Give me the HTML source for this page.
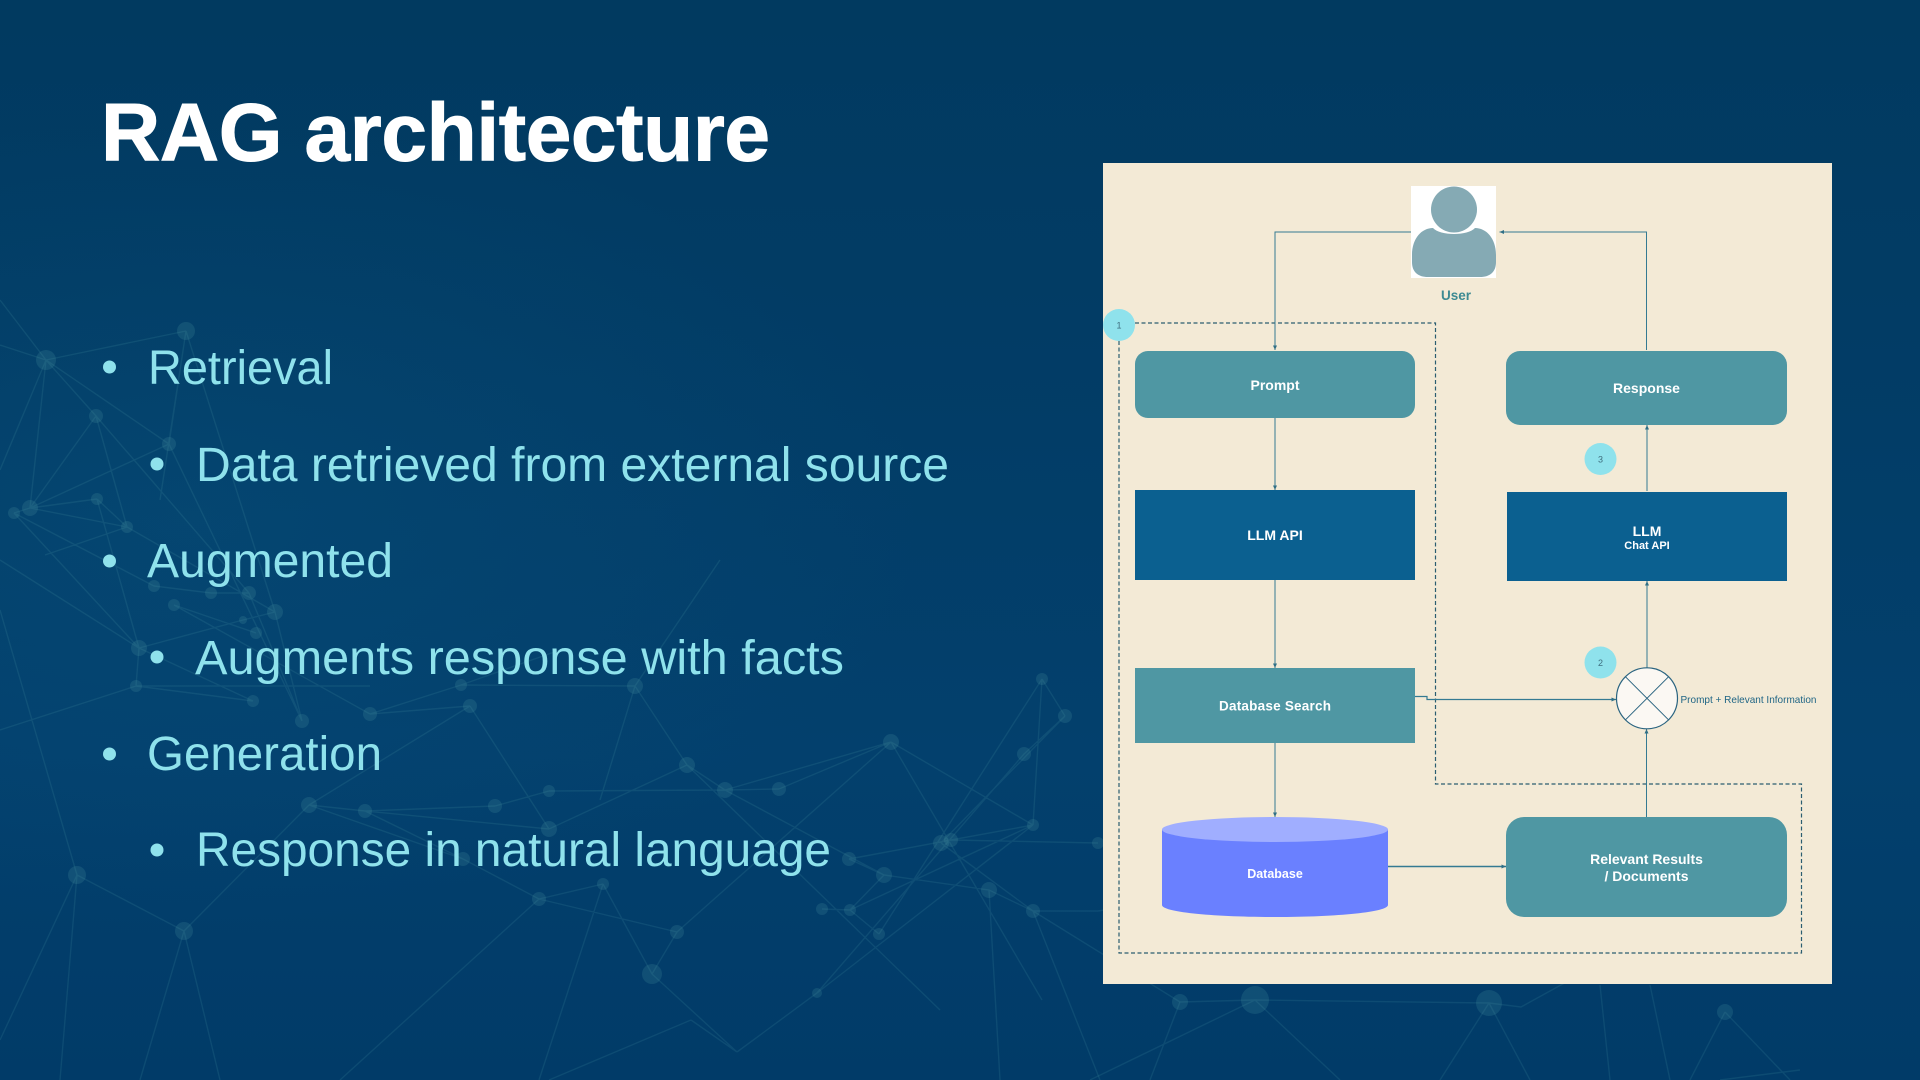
<!DOCTYPE html>
<html lang="en"><head><meta charset="utf-8"><title>RAG architecture</title>
<style>
html,body{margin:0;padding:0;width:1920px;height:1080px;overflow:hidden;background:#023b64}
svg{display:block}
text{font-family:"Liberation Sans",sans-serif}
.b{fill:#8fe2ec;font-size:48px}
.w{fill:#fff;font-weight:bold;font-size:14px;text-anchor:middle}
.n{fill:#3f6f7f;font-size:9px;text-anchor:middle}
</style></head><body>
<svg width="1920" height="1080" viewBox="0 0 1920 1080" xmlns="http://www.w3.org/2000/svg">
<defs>
<linearGradient id="bg" x1="0" y1="0" x2="0" y2="1">
<stop offset="0" stop-color="#013a60"/><stop offset=".3" stop-color="#023c65"/><stop offset=".7" stop-color="#03406d"/><stop offset="1" stop-color="#013b68"/>
</linearGradient>
<radialGradient id="gl" cx="0.1" cy="0.48" r="0.38">
<stop offset="0" stop-color="#0b5a86" stop-opacity=".28"/><stop offset="1" stop-color="#0b5a86" stop-opacity="0"/>
</radialGradient>
<marker id="a" markerWidth="5" markerHeight="5" refX="4.5" refY="2.5" orient="auto" markerUnits="userSpaceOnUse"><path d="M0 0.500L4.500 2.500L0 4.500z" fill="#2f6f86"/></marker>
</defs>
<rect width="1920" height="1080" fill="url(#bg)"/>
<rect width="1920" height="1080" fill="url(#gl)"/>
<g stroke="#4f9aa4" stroke-opacity=".17" stroke-width="1.400" fill="none">
<path d="M46 360L186 331M46 360L0 345M46 360L96 416M46 360L169 444M46 360L30 508M46 360L0 470M0 300L46 360M186 331L169 444M186 331L160 500M186 331L275 612M96 416L30 508M96 416L127 527M96 416L249 593M169 444L30 508M169 444L302 721M30 508L97 499M30 508L127 527M14 513L30 508M14 513L154 586M14 513L139 648M97 499L127 527M97 499L139 648M127 527L45 555M127 527L275 612M154 586L211 593L249 593M174 605L256 633M174 605L370 714M275 612L302 721M249 593L302 721M275 612L243 620L139 648M139 648L136 686M0 560L139 648M136 686L0 730M136 686L370 686M136 686L253 701M253 701L139 648M370 714L470 706M370 714L461 685M461 685L635 686M470 706L370 714M470 706L549 829M470 706L309 805M461 685L560 650M635 686L687 765M635 686L600 800M635 686L720 560M687 765L725 790L779 789M779 789L891 742M891 742L1033 825M891 742L725 790M725 790L884 875M687 765L940 1010M309 805L365 811L495 806M495 806L549 791M549 791L725 790M549 829L687 765M549 829L365 811M365 811L463 859M309 805L463 859M463 859L539 899L603 884M539 899L677 932M603 884L652 974M677 932L891 742M677 932L652 974M652 974L737 1052M737 1052L817 993L1033 825M691 1020L549 1080M691 1020L737 1052M603 884L539 1080M539 899L340 1080M309 805L184 931M77 875L184 931M77 875L0 1040M77 875L0 610M77 875L60 1080M184 931L140 1080M184 931L220 1080M849 859L951 840L1033 825M849 859L884 875L989 890L1033 911M884 875L850 910M822 909L850 910L879 934M850 910L1033 825M879 934L1042 679M1042 679L1065 716M1042 679L1033 825M1065 716L941 843M1065 716L1024 754L817 993M951 840L1098 843M941 843L1033 911M1033 911L1098 911M1033 911L1180 1002M1098 911L1300 880M1033 911L1100 1080M989 890L1000 1080M891 742L1042 1000"/>
<path d="M1255 1000L1489 1003M1255 1000L1090 1080M1255 1000L1180 1002M1255 1000L1340 1080M1180 1002L1150 1080M1489 1003L1521 1007L1570 980M1489 1003L1440 1080M1489 1003L1530 1080M1725 1012L1790 1080M1725 1012L1690 1080M1650 985L1670 1080M1600 985L1610 1080M1800 1070L1720 1080"/>
</g>
<g fill="#4f9aa4" fill-opacity=".2">
<circle cx="46" cy="360" r="10"/><circle cx="186" cy="331" r="9"/><circle cx="96" cy="416" r="7"/><circle cx="169" cy="444" r="7"/><circle cx="30" cy="508" r="8"/><circle cx="14" cy="513" r="6"/><circle cx="97" cy="499" r="6"/><circle cx="127" cy="527" r="6"/><circle cx="154" cy="586" r="6"/><circle cx="211" cy="593" r="6"/><circle cx="249" cy="593" r="7"/><circle cx="174" cy="605" r="6"/><circle cx="275" cy="612" r="8"/><circle cx="243" cy="620" r="4"/><circle cx="256" cy="633" r="6"/><circle cx="139" cy="648" r="8"/><circle cx="136" cy="686" r="6"/><circle cx="253" cy="701" r="6"/><circle cx="302" cy="721" r="7"/><circle cx="370" cy="714" r="7"/><circle cx="461" cy="685" r="6"/><circle cx="470" cy="706" r="7"/><circle cx="635" cy="686" r="8"/><circle cx="309" cy="805" r="8"/><circle cx="365" cy="811" r="7"/><circle cx="495" cy="806" r="7"/><circle cx="549" cy="791" r="6"/><circle cx="549" cy="829" r="8"/><circle cx="687" cy="765" r="8"/><circle cx="725" cy="790" r="8"/><circle cx="779" cy="789" r="7"/><circle cx="891" cy="742" r="8"/><circle cx="1042" cy="679" r="6"/><circle cx="1065" cy="716" r="7"/><circle cx="1024" cy="754" r="7"/><circle cx="1033" cy="825" r="6"/><circle cx="951" cy="840" r="7"/><circle cx="941" cy="843" r="8"/><circle cx="1098" cy="843" r="6"/><circle cx="849" cy="859" r="7"/><circle cx="884" cy="875" r="8"/><circle cx="989" cy="890" r="8"/><circle cx="1033" cy="911" r="7"/><circle cx="822" cy="909" r="6"/><circle cx="850" cy="910" r="6"/><circle cx="879" cy="934" r="6"/><circle cx="677" cy="932" r="7"/><circle cx="603" cy="884" r="6"/><circle cx="539" cy="899" r="7"/><circle cx="463" cy="859" r="7"/><circle cx="77" cy="875" r="9"/><circle cx="184" cy="931" r="9"/><circle cx="652" cy="974" r="10"/><circle cx="817" cy="993" r="5"/><circle cx="1255" cy="1000" r="14"/><circle cx="1180" cy="1002" r="8"/><circle cx="1489" cy="1003" r="13"/><circle cx="1725" cy="1012" r="8"/>
</g>

<text x="101" y="160.500" fill="#fff" stroke="#fff" stroke-width="1" font-weight="bold" style="font-size:82px" textLength="669" lengthAdjust="spacing">RAG architecture</text>
<g fill="#8fe2ec"><circle cx="109.500" cy="367" r="6.500"/><circle cx="157" cy="464" r="6.500"/><circle cx="109.500" cy="561" r="6.500"/><circle cx="157" cy="657" r="6.500"/><circle cx="109.500" cy="754" r="6.500"/><circle cx="157" cy="850" r="6.500"/></g>
<text class="b" x="148" y="384" textLength="185" lengthAdjust="spacingAndGlyphs">Retrieval</text>
<text class="b" x="196" y="481" textLength="753" lengthAdjust="spacingAndGlyphs">Data retrieved from external source</text>
<text class="b" x="147" y="577" textLength="246" lengthAdjust="spacingAndGlyphs">Augmented</text>
<text class="b" x="195" y="674" textLength="649" lengthAdjust="spacingAndGlyphs">Augments response with facts</text>
<text class="b" x="147" y="770" textLength="235" lengthAdjust="spacingAndGlyphs">Generation</text>
<text class="b" x="196" y="866" textLength="635" lengthAdjust="spacingAndGlyphs">Response in natural language</text>

<rect x="1103" y="163" width="729" height="821" fill="#f3ead6"/>

<rect x="1411" y="186" width="85" height="92" fill="#fff"/>
<ellipse cx="1454" cy="209.500" rx="23" ry="23" fill="#85aab4"/>
<path d="M1412 262V255C1412 238 1422 228 1433 228C1440 236 1468 236 1475 228C1486 228 1496 238 1496 255V262C1496 272 1490 277 1480 277H1428C1418 277 1412 272 1412 262Z" fill="#85aab4"/>
<text x="1456" y="300" text-anchor="middle" font-weight="bold" style="font-size:13.500px" fill="#3d8a92">User</text>

<g fill="none" stroke="#2b5d70" stroke-width="1.200" stroke-dasharray="4 2.500">
<path d="M1135 323H1435.500V784H1801.500V953H1119V340"/>
</g>

<g fill="none" stroke="#347a92" stroke-width="1">
<path d="M1411 232H1275V350" marker-end="url(#a)"/>
<path d="M1646.500 350V232H1499.500" marker-end="url(#a)"/>
<path d="M1275 418V490" marker-end="url(#a)"/>
<path d="M1275 580V668" marker-end="url(#a)"/>
<path d="M1275 743V817" marker-end="url(#a)"/>
<path d="M1647 491V425" marker-end="url(#a)"/>
<path d="M1647 668V581" marker-end="url(#a)"/>
<path d="M1646.500 817V729" marker-end="url(#a)"/>
<path d="M1388 866.500H1506" stroke-width="1.500" marker-end="url(#a)"/>
<path d="M1415 696.500H1427V699.500H1616" stroke-width="1.200" marker-end="url(#a)"/>
</g>

<circle cx="1119" cy="325" r="16" fill="#8fe2ec"/><text class="n" x="1119" y="328.500">1</text>
<circle cx="1600.500" cy="459" r="16" fill="#8fe2ec"/><text class="n" x="1600.500" y="462.500">3</text>
<circle cx="1600.500" cy="662.500" r="16" fill="#8fe2ec"/><text class="n" x="1600.500" y="666">2</text>

<rect x="1135" y="351" width="280" height="67" rx="13" fill="#4f97a3"/>
<text class="w" x="1275" y="390">Prompt</text>
<rect x="1506" y="351" width="281" height="74" rx="14" fill="#4f97a3"/>
<text class="w" x="1646.500" y="393">Response</text>
<rect x="1135" y="490" width="280" height="90" fill="#0b6090"/>
<text class="w" x="1275" y="540">LLM API</text>
<rect x="1507" y="492" width="280" height="89" fill="#0b6090"/>
<text class="w" x="1647" y="536">LLM</text>
<text class="w" x="1647" y="549" style="font-size:11px">Chat API</text>
<rect x="1135" y="668" width="280" height="75" fill="#4f97a3"/>
<text class="w" x="1275" y="710.500" style="font-size:13.500px" textLength="112">Database Search</text>

<path d="M1162 829.500V905C1162 912 1212 917 1275 917C1338 917 1388 912 1388 905V829.500Z" fill="#6a80ff"/>
<ellipse cx="1275" cy="829.500" rx="113" ry="12.500" fill="#a0aeff"/>
<text class="w" x="1275" y="878" style="font-size:12.500px">Database</text>

<rect x="1506" y="817" width="281" height="100" rx="18" fill="#4f97a3"/>
<text class="w" x="1646.500" y="864">Relevant Results</text>
<text class="w" x="1646.500" y="881">/ Documents</text>

<circle cx="1647" cy="698.300" r="30.500" fill="#fbf8f3" stroke="#2a6480" stroke-width="1.200"/>
<path d="M1625.500 676.800L1668.500 719.800M1668.500 676.800L1625.500 719.800" stroke="#2a6480" stroke-width="1"/>
<text x="1680.500" y="703" fill="#1f6585" style="font-size:10.500px" textLength="136" lengthAdjust="spacingAndGlyphs">Prompt + Relevant Information</text>
</svg>
</body></html>
